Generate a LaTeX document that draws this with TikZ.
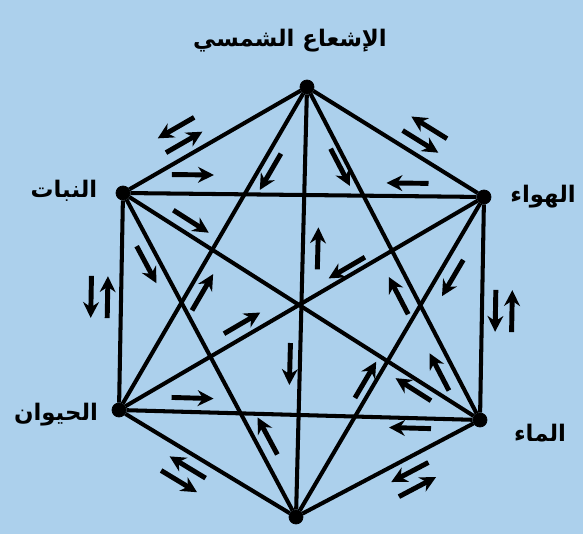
\documentclass[tikz,border=0pt]{standalone}
\usepackage{fontspec}
\usepackage{tikz}
\usetikzlibrary{arrows.meta,decorations.markings}
\newfontfamily\arabicfont[Script=Arabic]{DejaVu Sans}
\TeXXeTstate=1
\definecolor{paper}{RGB}{172,208,236}
\tikzset{
  vtx/.style={circle,draw=black,fill=black,inner sep=0pt,minimum size=8pt},
  link/.style={line width=2.3pt},
  flow/.style={line width=2.8pt,-{Stealth[length=9pt,width=9pt]}},
  fw/.style 2 args={postaction={decorate,decoration={markings,
      mark=at position #1 with {\draw[flow] (-0.42,#2) -- (0.42,#2);}}}},
  bw/.style 2 args={postaction={decorate,decoration={markings,
      mark=at position #1 with {\draw[flow] (0.42,#2) -- (-0.42,#2);}}}},
  pair/.style={fw={#1}{0.27},bw={#1}{0.6}},
  lbl/.style={font=\arabicfont\bfseries\fontsize{13}{15}\selectfont}
}
\begin{document}
\begin{tikzpicture}
\fill[paper] (0,0) rectangle (11.66,10.68);
\useasboundingbox (0,0) rectangle (11.66,10.68);
\node[vtx] (t) at (6.14,8.94) {};
\node[vtx] (ur) at (9.68,6.74) {};
\node[vtx] (lr) at (9.60,2.28) {};
\node[vtx] (b) at (5.92,0.34) {};
\node[vtx] (ll) at (2.38,2.48) {};
\node[vtx] (ul) at (2.46,6.82) {};
\node[lbl] (sun) at (5.80,9.86) {\beginR الإشعاع الشمسي\endR};
\node[lbl] (air) at (10.86,6.74) {\beginR الهواء\endR};
\node[lbl] (water) at (10.80,2.02) {\beginR الماء\endR};
\node[lbl] (animal) at (1.12,2.38) {\beginR الحيوان\endR};
\node[lbl] (plant) at (1.28,6.86) {\beginR النبات\endR};
% sides
\draw[link,pair=0.61] (t) -- (ur);
\draw[link,pair=0.51] (ur) -- (lr);
\draw[link,pair=0.41] (lr) -- (b);
\draw[link,pair=0.58] (b) -- (ll);
\draw[link,pair=0.52] (ll) -- (ul);
\draw[link,pair=0.36] (ul) -- (t);
% diagonals
\draw[link,fw={0.18}{0.38},bw={0.80}{0.26}] (ul) -- (ur);
\draw[link,fw={0.19}{0.28},bw={0.82}{-0.2}] (ll) -- (lr);
\draw[link,fw={0.235}{0.22},bw={0.62}{0.26}] (t) -- (ll);
\draw[link,bw={0.37}{0.3},fw={0.65}{-0.2}] (t) -- (b);
\draw[link,fw={0.22}{-0.15},bw={0.61}{-0.3},bw={0.85}{-0.28}] (t) -- (lr);
\draw[link,fw={0.16}{0.25},bw={0.84}{-0.2}] (ul) -- (lr);
\draw[link,fw={0.19}{-0.26},bw={0.78}{0.26}] (ul) -- (b);
\draw[link,fw={0.36}{-0.16},bw={0.65}{-0.26}] (ur) -- (ll);
\draw[link,fw={0.22}{0.28},bw={0.59}{-0.19}] (ur) -- (b);
\end{tikzpicture}
\end{document}
